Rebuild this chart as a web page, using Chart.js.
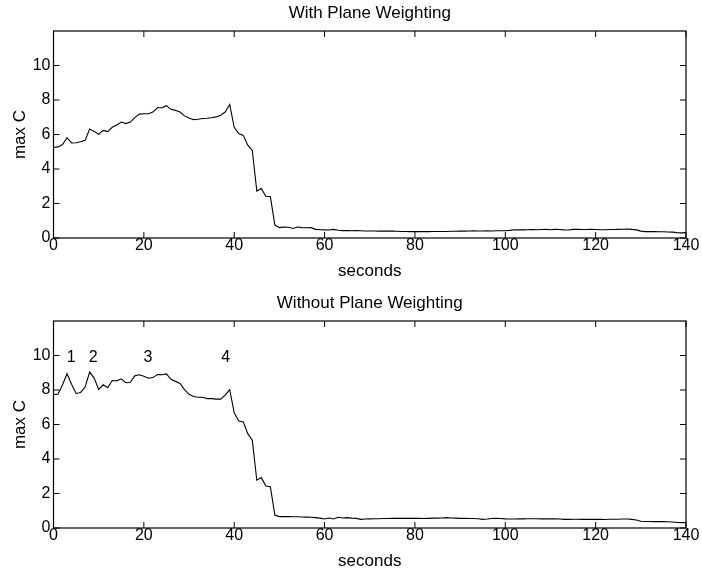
<!DOCTYPE html>
<html>
<head>
<meta charset="utf-8">
<title>max C</title>
<script src="https://cdn.jsdelivr.net/npm/chart.js@4/dist/chart.umd.min.js"></script>
<style>
  html, body { margin: 0; padding: 0; background: #fff; overflow: hidden; }
  canvas { position: absolute; left: 0; }
  #top { top: 0; }
  #bottom { top: 290px; }
</style>
</head>
<body>
<canvas id="top" width="702" height="290"></canvas>
<canvas id="bottom" width="702" height="290"></canvas>
<script>
// ── Data ──────────────────────────────────────────────
const seconds = Array.from({ length: 141 }, (_, i) => i);

const withWeighting = [
  5.25, 5.28, 5.42, 5.82, 5.51, 5.52, 5.58, 5.66, 6.32, 6.18,
  6.01, 6.24, 6.17, 6.42, 6.55, 6.72, 6.63, 6.72, 6.98, 7.18,
  7.2, 7.2, 7.3, 7.55, 7.55, 7.67, 7.46, 7.4, 7.3, 7.08,
  6.95, 6.86, 6.88, 6.93, 6.94, 6.97, 7.02, 7.12, 7.3, 7.74,
  6.42, 6.05, 5.95, 5.38, 5.08, 2.72, 2.87, 2.42, 2.4, 0.75,
  0.6, 0.63, 0.62, 0.55, 0.64, 0.6, 0.59, 0.6, 0.5, 0.48,
  0.47, 0.46, 0.5, 0.45, 0.43, 0.43, 0.42, 0.43, 0.42, 0.41,
  0.41, 0.41, 0.4, 0.41, 0.4, 0.4, 0.39, 0.38, 0.38, 0.37,
  0.37, 0.38, 0.37, 0.37, 0.38, 0.38, 0.38, 0.38, 0.39, 0.39,
  0.4, 0.4, 0.41, 0.42, 0.41, 0.41, 0.42, 0.41, 0.42, 0.42,
  0.42, 0.44, 0.48, 0.47, 0.47, 0.48, 0.49, 0.48, 0.49, 0.5,
  0.48, 0.5, 0.49, 0.47, 0.46, 0.5, 0.5, 0.49, 0.49, 0.5,
  0.49, 0.48, 0.48, 0.49, 0.49, 0.5, 0.51, 0.52, 0.5, 0.47,
  0.4, 0.37, 0.37, 0.37, 0.36, 0.36, 0.35, 0.34, 0.31, 0.3,
  0.31
];

const withoutWeighting = [
  7.74, 7.76, 8.3, 8.94, 8.33, 7.8, 7.86, 8.17, 9.04, 8.69,
  8.03, 8.3, 8.13, 8.55, 8.53, 8.65, 8.42, 8.45, 8.82, 8.88,
  8.8, 8.68, 8.72, 8.9, 8.88, 8.93, 8.62, 8.5, 8.38, 8.02,
  7.75, 7.62, 7.58, 7.58, 7.5, 7.5, 7.47, 7.47, 7.7, 8.02,
  6.68, 6.2, 6.15, 5.47, 5.09, 2.77, 2.92, 2.43, 2.39, 0.75,
  0.66, 0.66, 0.66, 0.65, 0.65, 0.64, 0.63, 0.62, 0.6, 0.57,
  0.52, 0.58, 0.52, 0.62, 0.58, 0.6, 0.57, 0.56, 0.5, 0.52,
  0.53, 0.54, 0.54, 0.55, 0.55, 0.56, 0.56, 0.56, 0.56, 0.56,
  0.56, 0.56, 0.55, 0.56, 0.57, 0.57, 0.58, 0.6, 0.58, 0.57,
  0.56, 0.56, 0.55, 0.55, 0.54, 0.5, 0.52, 0.55, 0.56, 0.55,
  0.53, 0.52, 0.52, 0.53, 0.53, 0.54, 0.54, 0.54, 0.53, 0.54,
  0.53, 0.53, 0.52, 0.5, 0.5, 0.51, 0.51, 0.5, 0.5, 0.5,
  0.51, 0.5, 0.49, 0.51, 0.51, 0.51, 0.52, 0.52, 0.5, 0.46,
  0.39, 0.38, 0.38, 0.37, 0.37, 0.37, 0.36, 0.35, 0.32, 0.31,
  0.32
];

const xTicks = [0, 20, 40, 60, 80, 100, 120, 140];
const yTicks = [0, 2, 4, 6, 8, 10];

// numbered peaks on the lower panel
const noteX = [3.9, 8.8, 20.9, 38.1];
const noteY = [9.88, 9.88, 9.88, 9.88];
const noteText = ['1', '2', '3', '4'];

const FONT = '"Liberation Sans", Arial, Helvetica, sans-serif';
const TICK = 6;

// ── Box and inward ticks ──────────────────────────────
const frameTicks = {
  id: 'frameTicks',
  afterDatasetsDraw(chart) {
    const { ctx, chartArea: a, scales: { x, y } } = chart;
    ctx.save();
    ctx.strokeStyle = '#000';
    ctx.lineWidth = 1.2;
    ctx.strokeRect(a.left, a.top, a.right - a.left, a.bottom - a.top);
    ctx.lineWidth = 1;
    ctx.beginPath();
    xTicks.forEach(v => {
      const px = x.getPixelForValue(v);
      ctx.moveTo(px, a.bottom); ctx.lineTo(px, a.bottom - TICK);
      ctx.moveTo(px, a.top);    ctx.lineTo(px, a.top + TICK);
    });
    yTicks.forEach(v => {
      const py = y.getPixelForValue(v);
      ctx.moveTo(a.left, py);  ctx.lineTo(a.left + TICK, py);
      ctx.moveTo(a.right, py); ctx.lineTo(a.right - TICK, py);
    });
    ctx.stroke();
    ctx.restore();
  }
};

// ── Panel title, centred over the plot box ────────────
const panelTitle = {
  id: 'panelTitle',
  afterDraw(chart, args, opts) {
    const { ctx, chartArea: a } = chart;
    ctx.save();
    ctx.fillStyle = '#000';
    ctx.font = '17px ' + FONT;
    ctx.textAlign = 'center';
    ctx.textBaseline = 'alphabetic';
    ctx.fillText(opts.text, (a.left + a.right) / 2, 17.5);
    ctx.restore();
  }
};

// ── Text labels at data positions ─────────────────────
const noteLabels = {
  id: 'noteLabels',
  afterDatasetsDraw(chart, args, opts) {
    if (!opts || !opts.text) return;
    const { ctx, scales: { x, y } } = chart;
    ctx.save();
    ctx.fillStyle = '#000';
    ctx.font = '16px ' + FONT;
    ctx.textAlign = 'center';
    ctx.textBaseline = 'middle';
    opts.text.forEach((t, i) => {
      ctx.fillText(t, x.getPixelForValue(opts.x[i]), y.getPixelForValue(opts.y[i]));
    });
    ctx.restore();
  }
};

function makePanel(id, title, values, notes) {
  return new Chart(document.getElementById(id), {
    type: 'line',
    data: {
      datasets: [{
        data: seconds.map((s, i) => ({ x: s, y: values[i] })),
        borderColor: '#000',
        borderWidth: 1.1,
        pointRadius: 0,
        tension: 0,
        fill: false,
      }],
    },
    options: {
      responsive: false,
      animation: false,
      events: [],
      layout: { padding: { top: 31, right: 16, bottom: 0, left: 0 } },
      plugins: {
        legend: { display: false },
        tooltip: { enabled: false },
        title: { display: false },
        panelTitle: { text: title },
        noteLabels: notes,
      },
      scales: {
        x: {
          type: 'linear',
          min: 0,
          max: 140,
          grid: { display: false, drawTicks: false },
          border: { display: false },
          afterBuildTicks: s => { s.ticks = xTicks.map(v => ({ value: v })); },
          afterFit: s => { s.height = 52; },
          ticks: { color: '#000', font: { family: FONT, size: 16 }, padding: -2, maxRotation: 0, autoSkip: false },
          title: {
            display: true, text: 'seconds', color: '#000',
            font: { family: FONT, size: 17 },
            padding: { top: 0, bottom: 8 },
          },
        },
        y: {
          type: 'linear',
          min: 0,
          max: 12,
          grid: { display: false, drawTicks: false },
          border: { display: false },
          afterBuildTicks: s => { s.ticks = yTicks.map(v => ({ value: v })); },
          afterFit: s => { s.width = 53.5; },
          ticks: { color: '#000', font: { family: FONT, size: 16 }, padding: 3, autoSkip: false },
          title: {
            display: true, text: 'max C', color: '#000',
            font: { family: FONT, size: 17 },
            padding: { top: 10.3, bottom: 0 },
          },
        },
      },
    },
    plugins: [frameTicks, panelTitle, noteLabels],
  });
}

makePanel('top', 'With Plane Weighting', withWeighting, null);
makePanel('bottom', 'Without Plane Weighting', withoutWeighting,
  { x: noteX, y: noteY, text: noteText });
</script>
</body>
</html>
